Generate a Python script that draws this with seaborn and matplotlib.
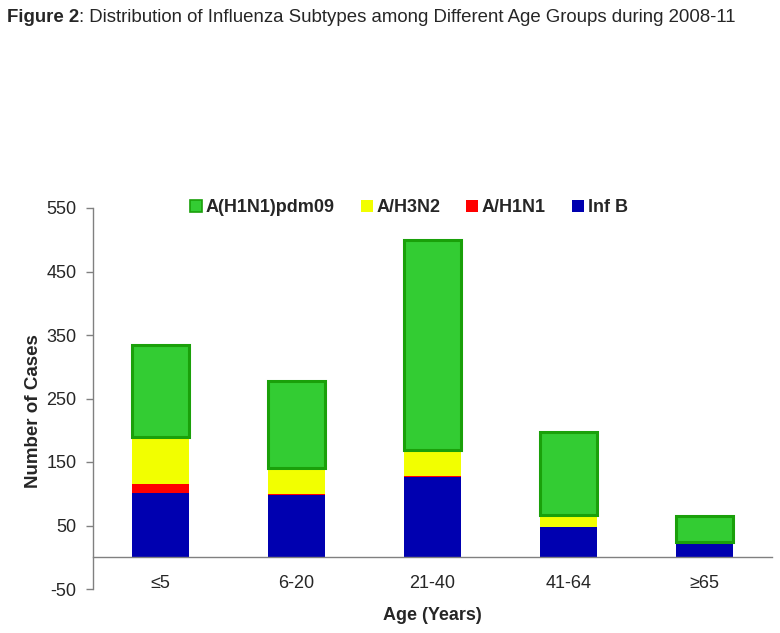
import numpy as np
import pandas as pd
import matplotlib
matplotlib.use('Agg')
import matplotlib.pyplot as plt
import seaborn as sns
from matplotlib.patches import Patch

# values
ages = ['≤5', '6-20', '21-40', '41-64', '≥65']
inf_b = [101, 98, 126, 47, 21]
a_h1n1 = [15, 2, 2, 0, 0]
a_h3n2 = [73, 41, 41, 20, 3]
a_pdm09 = [145, 137, 331, 130, 41]

series_names = ['Inf B', 'A/H1N1', 'A/H3N2', 'A(H1N1)pdm09']
series_vals = [inf_b, a_h1n1, a_h3n2, a_pdm09]
colors = {'Inf B': '#0000B0', 'A/H1N1': '#FF0000', 'A/H3N2': '#F2FF00', 'A(H1N1)pdm09': '#33CC33'}
green_edge = '#1AA00A'

sns.set_style('white')
plt.rcParams['font.family'] = ['Liberation Sans', 'DejaVu Sans']
plt.rcParams['axes.unicode_minus'] = False

fig = plt.figure(figsize=(7.8, 6.33), dpi=100)
ax = fig.add_axes([92.7 / 780, (633 - 589) / 633, (772 - 92.7) / 780, (589 - 208) / 633])

bottom = np.zeros(len(ages))
for name, vals in zip(series_names, series_vals):
    df = pd.DataFrame({'age': ages, 'cases': vals})
    if name == 'A(H1N1)pdm09':
        kw = dict(edgecolor=green_edge, linewidth=2.2)
    else:
        kw = dict(linewidth=0)
    sns.barplot(data=df, x='age', y='cases', order=ages, color=colors[name],
                saturation=1, width=0.42, errorbar=None, bottom=bottom, ax=ax, **kw)
    bottom = bottom + np.array(vals)

ax.set_ylim(-50, 550)
ax.set_xlim(-0.5, 4.5)
ax.set_yticks(range(-50, 551, 100))

# category boundaries carry the ticks, labels sit at centres
ax.set_xticks([0.5, 1.5, 2.5, 3.5, 4.5])
ax.set_xticklabels([])
ax.set_xticks(range(len(ages)), minor=True)
ax.set_xticklabels(ages, minor=True)

ax.spines['bottom'].set_position(('data', 0))
ax.spines['top'].set_visible(False)
ax.spines['right'].set_visible(False)
for s in ['bottom', 'left']:
    ax.spines[s].set_color('#808080')
    ax.spines[s].set_linewidth(1.0)

ax.tick_params(axis='x', which='major', direction='out', length=5, color='#808080', width=1)
ax.tick_params(axis='x', which='minor', length=0, pad=13, labelsize=13)
ax.tick_params(axis='y', direction='out', length=5, color='#808080', width=1, pad=6.5, labelsize=13, left=True)

ax.set_xlabel('')
ax.set_ylabel('')
fig.text(34 / 780, 1 - 411 / 633, 'Number of Cases', rotation=90, ha='center', va='center',
         fontsize=13.5, fontweight='bold')
fig.text(0.5 * (92.7 + 772) / 780, (633 - 616) / 633, 'Age (Years)', ha='center', va='center',
         fontsize=13, fontweight='bold')

handles = [Patch(facecolor=colors['A(H1N1)pdm09'], edgecolor=green_edge, linewidth=1.2),
           Patch(facecolor=colors['A/H3N2'], edgecolor='none'),
           Patch(facecolor=colors['A/H1N1'], edgecolor='none'),
           Patch(facecolor=colors['Inf B'], edgecolor='none')]
labels = ['A(H1N1)pdm09', 'A/H3N2', 'A/H1N1', 'Inf B']
ax.legend(handles, labels, loc='center', bbox_to_anchor=(0.4656, 1.0), ncol=4, frameon=False,
          prop={'weight': 'bold', 'size': 13}, handlelength=0.64, handleheight=0.64,
          handletextpad=0.22, columnspacing=1.44, borderaxespad=0)

t1 = fig.text(7 / 780, 1 - 18 / 633, 'Figure 2', fontsize=13.4, fontweight='bold', va='center', ha='left')
ax.annotate(': Distribution of Influenza Subtypes among Different Age Groups during 2008-11',
            xy=(1, 0.5), xycoords=t1, va='center', ha='left', fontsize=13.4,
            annotation_clip=False)

fig.savefig('out.png', dpi=100)
